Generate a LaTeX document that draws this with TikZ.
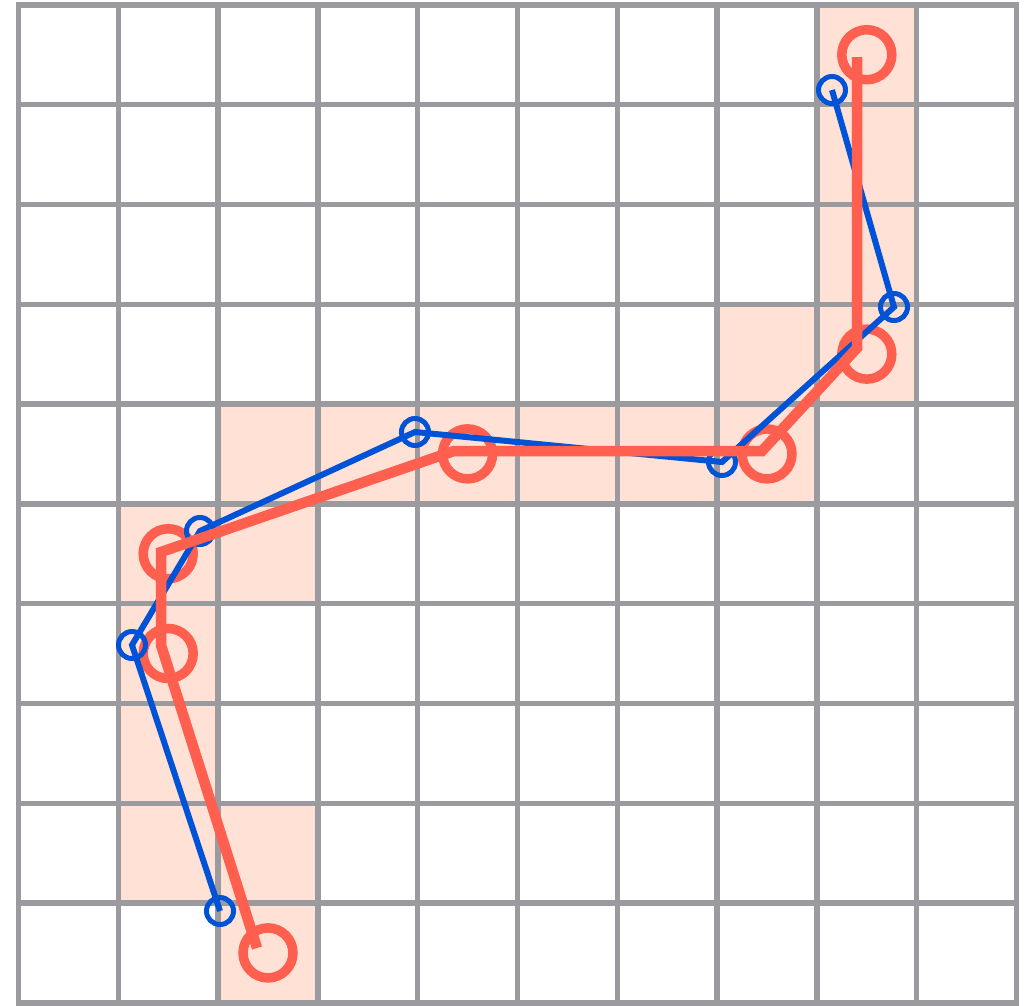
\documentclass[tikz,border=0pt]{standalone}
\definecolor{gridgray}{HTML}{9B9B9F}
\definecolor{cellfill}{HTML}{FFE1D6}
\definecolor{redpath}{HTML}{FF5F4F}
\definecolor{bluepath}{HTML}{0052D6}
\tikzset{
  gridline/.style={draw=gridgray, line width=5.4pt, line cap=rect},
  cellshade/.style={fill=cellfill},
  redline/.style={draw=redpath, line width=10.5pt, line cap=butt, line join=miter},
  redring/.style={draw=redpath, line width=9.5pt},
  blueline/.style={draw=bluepath, line width=6pt, line join=miter},
  bluering/.style={draw=bluepath, line width=5pt}
}
\begin{document}
\begin{tikzpicture}[x=1pt,y=-1pt]
\useasboundingbox (0,0) rectangle (1034,1005);
\fill[white] (0,0) rectangle (1034,1005);
\def\s{99.8}
\def\xo{18.5}
\def\yo{4.8}
% shaded cells
\foreach \c/\r in {8/0,8/1,8/2,7/3,8/3,2/4,3/4,4/4,5/4,6/4,7/4,1/5,2/5,1/6,1/7,1/8,2/8,2/9}
  \path[cellshade] ({\xo+\c*\s},{\yo+\r*\s}) rectangle ({\xo+(\c+1)*\s},{\yo+(\r+1)*\s});
% grid
\foreach \k in {0,...,10} {
  \draw[gridline] ({\xo+\k*\s},\yo) -- ({\xo+\k*\s},{\yo+10*\s});
  \draw[gridline] (\xo,{\yo+\k*\s}) -- ({\xo+10*\s},{\yo+\k*\s});
}
% red circles at cell centres
\foreach \c/\r in {8/0,8/3,7/4,4/4,1/5,1/6,2/9}
  \draw[redring] ({\xo+(\c+0.5)*\s},{\yo+(\r+0.5)*\s}) circle[radius=25];
% blue path
\coordinate (b1) at (220,911);
\coordinate (b2) at (132,645);
\coordinate (b3) at (200,531);
\coordinate (b4) at (415,432);
\coordinate (b5) at (722,462);
\coordinate (b6) at (894,307);
\coordinate (b7) at (832,90);
\draw[blueline] (b1) -- (b2) -- (b3) -- (b4) -- (b5) -- (b6) -- (b7);
\foreach \n in {b1,b2,b3,b4,b5,b6,b7}
  \draw[bluering] (\n) circle[radius=13.5];
% red path
\coordinate (r1) at (257,948);
\coordinate (r2) at (161,645);
\coordinate (r3) at (161,552);
\coordinate (r4) at (454,451);
\coordinate (r5) at (762,451);
\coordinate (r6) at (857,348);
\coordinate (r7) at (857,57);
\draw[redline] (r1) -- (r2) -- (r3) -- (r4) -- (r5) -- (r6) -- (r7);
\end{tikzpicture}
\end{document}
